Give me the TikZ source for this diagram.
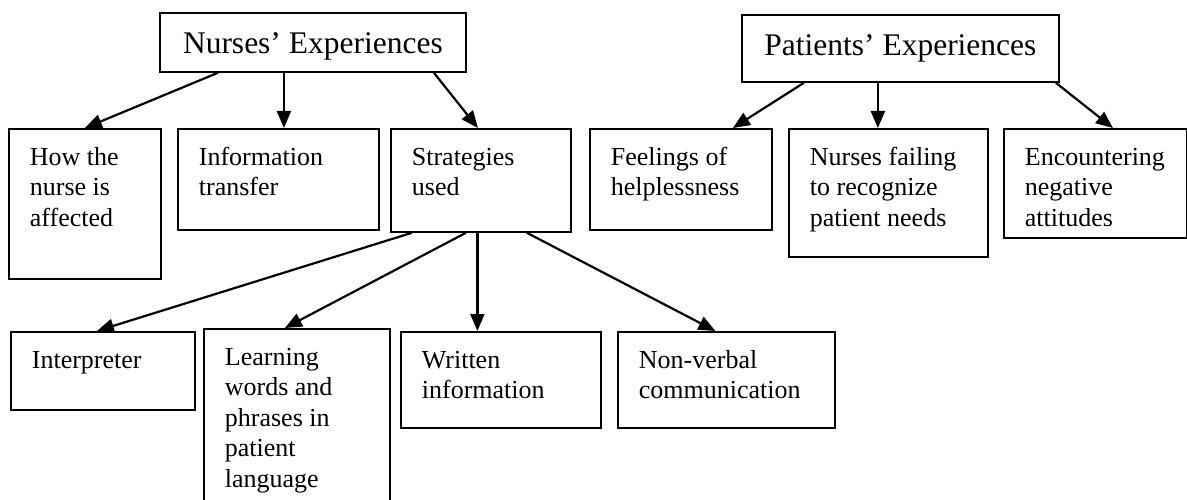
\documentclass[tikz,border=0pt]{standalone}
\usepackage{fontspec}
\setmainfont{Liberation Serif}
\usetikzlibrary{arrows.meta}
\newcommand{\boxtext}[3]{\parbox[t][#2][t]{#1}{\raggedright\strut #3}}
\newcommand{\headtext}[3]{\parbox[t][#2][t]{#1}{\centering\strut #3}}

\begin{document}
\begin{tikzpicture}[line join=miter,>={Triangle[length=17pt,width=14pt]},x=1pt,y=1pt,
  head/.style={draw,line width=1.8pt,anchor=north west,inner xsep=10pt,inner ysep=15pt,font=\fontsize{31.5}{36}\selectfont},
  item/.style={draw,line width=1.8pt,anchor=north west,inner xsep=21pt,inner ysep=15pt,font=\fontsize{26}{30.5}\selectfont},
  link/.style={->,line width=2.2pt}]
\clip (0,0) rectangle (1187,-500);
% the two themes
\node[head] (nurses) at (159,-12) {\headtext{286pt}{29pt}{Nurses’ Experiences}};
\node[head] (patients) at (741,-14) {\headtext{297pt}{37pt}{Patients’ Experiences}};
%
\node[item] (how) at (8,-128) {\boxtext{110pt}{120pt}{How the\\nurse is\\affected}};
\node[item] (info) at (177,-128) {\boxtext{159pt}{71pt}{Information\\transfer}};
\node[item] (strat) at (390,-128) {\boxtext{138pt}{73pt}{Strategies\\used}};
\node[item] (feel) at (589,-128) {\boxtext{140pt}{71pt}{Feelings of\\helplessness}};
\node[item] (fail) at (788,-128) {\boxtext{157pt}{98pt}{Nurses failing\\to recognize\\patient needs}};
\node[item] (enc) at (1003,-128) {\boxtext{141pt}{79pt}{Encountering\\negative\\attitudes}};
% strategies
\node[item] (interp) at (10,-331) {\boxtext{142pt}{48pt}{Interpreter}};
\node[item] (learn) at (203,-328) {\boxtext{144pt}{160pt}{Learning\\words and\\phrases in\\patient\\language}};
\node[item] (writ) at (400,-331) {\boxtext{158pt}{66pt}{Written\\information}};
\node[item] (nonv) at (617,-331) {\boxtext{175pt}{66pt}{Non-verbal\\communication}};
%
\draw[link] ([xshift=-95pt]nurses.south) -- (how.north);
\draw[link] ([xshift=-29pt]nurses.south) -- ([xshift=5.5pt]info.north);
\draw[link] ([xshift=121pt]nurses.south) -- ([xshift=-3pt]strat.north);
\draw[link] ([xshift=-96.5pt]patients.south) -- ([xshift=52pt]feel.north);
\draw[link] ([xshift=-22.5pt]patients.south) -- ([xshift=-10.5pt]fail.north);
\draw[link] ([xshift=155.5pt]patients.south) -- ([xshift=17.5pt]enc.north);
%
\draw[link] ([xshift=-69pt]strat.south) -- ([xshift=-6pt]interp.north);
\draw[link] ([xshift=-15pt]strat.south) -- ([xshift=-12pt]learn.north);
\draw[link] ([xshift=-3.5pt]strat.south) -- ([xshift=-23.5pt]writ.north);
\draw[link] ([xshift=46pt]strat.south) -- ([xshift=-11pt]nonv.north);
\end{tikzpicture}
\end{document}
